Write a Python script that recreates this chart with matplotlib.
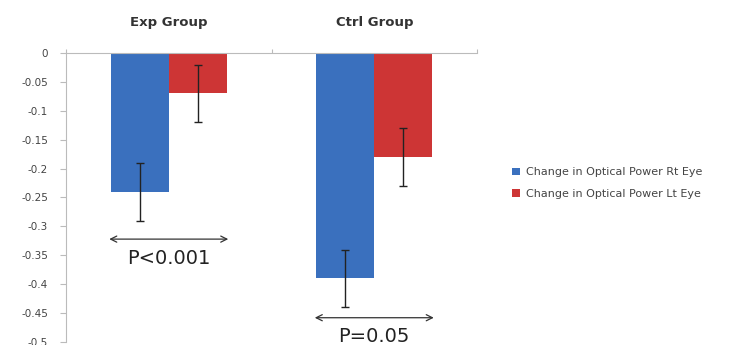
import matplotlib
matplotlib.use("Agg")
import matplotlib.pyplot as plt
import numpy as np

categories = ["Exp Group", "Ctrl Group"]
series_names = ["Change in Optical Power Rt Eye", "Change in Optical Power Lt Eye"]
rt_values = [-0.24, -0.39]
lt_values = [-0.07, -0.18]
rt_err = [0.05, 0.05]
lt_err = [0.05, 0.05]
p_labels = ["P<0.001", "P=0.05"]
p_levels = [-0.322, -0.458]
yticks = [0, -0.05, -0.1, -0.15, -0.2, -0.25, -0.3, -0.35, -0.4, -0.45, -0.5]
ytick_labels = ["0", "-0.05", "-0.1", "-0.15", "-0.2", "-0.25", "-0.3", "-0.35", "-0.4", "-0.45", "-0.5"]

fig = plt.figure(figsize=(7.39, 3.45), dpi=100)
ax = fig.add_axes([0.0893, 0.0087, 0.5562, 0.8377])

x = np.arange(len(categories))
w = 0.283
blue = "#3A70BE"
red = "#CD3535"
ax.bar(x - w / 2, rt_values, w, color=blue, label=series_names[0], zorder=2)
ax.bar(x + w / 2, lt_values, w, color=red, label=series_names[1], zorder=2)
ax.errorbar(x - w / 2, rt_values, yerr=rt_err, fmt="none", ecolor="#222222",
            elinewidth=1.0, capsize=3, capthick=1.0, zorder=3)
ax.errorbar(x + w / 2, lt_values, yerr=lt_err, fmt="none", ecolor="#222222",
            elinewidth=1.0, capsize=3, capthick=1.0, zorder=3)

ax.set_xlim(-0.5, 1.5)
ax.set_ylim(-0.5, 0)
ax.set_yticks(yticks)
ax.set_yticklabels(ytick_labels, fontsize=7.5, color="#444444", family="DejaVu Sans")
ax.tick_params(axis="y", length=4, color="#BBBBBB", pad=9)

ax.xaxis.tick_top()
ax.set_xticks([-0.5, 0.5, 1.5])
ax.set_xticklabels([])
ax.tick_params(axis="x", length=3, color="#BBBBBB")

for s in ["right", "bottom"]:
    ax.spines[s].set_visible(False)
ax.spines["left"].set_color("#BBBBBB")
ax.spines["top"].set_color("#BBBBBB")

for i, c in enumerate(categories):
    ax.text(i, 1.107, c, transform=ax.get_xaxis_transform(), ha="center", va="center",
            fontsize=9.5, fontweight="bold", color="#333333", family="DejaVu Sans")

for i, (lab, lvl) in enumerate(zip(p_labels, p_levels)):
    ax.annotate("", xy=(i - w - 0.02, lvl), xytext=(i + w + 0.02, lvl),
                arrowprops=dict(arrowstyle="<->", color="#333333", lw=0.9,
                                mutation_scale=11), zorder=4)
    ax.text(i, lvl - 0.033, lab, ha="center", va="center", fontsize=14,
            color="#222222", family="DejaVu Sans")

leg = ax.legend(loc="center left", bbox_to_anchor=(1.075, 0.55), frameon=False,
                handlelength=0.7, handleheight=0.7, handletextpad=0.5,
                labelspacing=1.0, borderaxespad=0,
                prop={"family": "DejaVu Sans", "size": 8})
for t in leg.get_texts():
    t.set_color("#444444")

fig.savefig("out.png", dpi=100)
